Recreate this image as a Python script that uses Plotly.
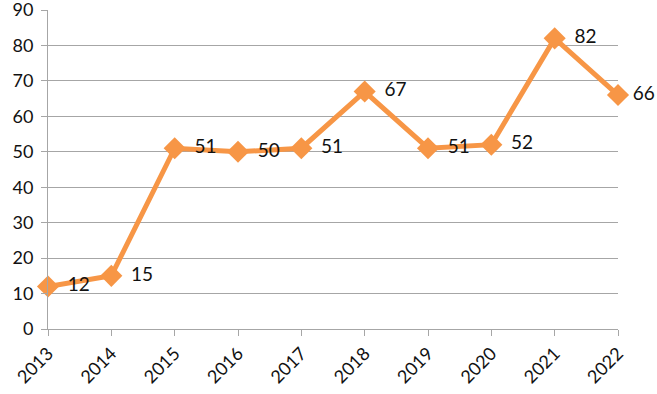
import plotly.graph_objects as go

years = ["2013", "2014", "2015", "2016", "2017", "2018", "2019", "2020", "2021", "2022"]
values = [12, 15, 51, 50, 51, 67, 51, 52, 82, 66]
y_ticks = [0, 10, 20, 30, 40, 50, 60, 70, 80, 90]

orange = "#F79646"
grid = "#A6A6A6"
font_family = "Lato"

fig = go.Figure()
fig.add_trace(go.Scatter(
    x=years, y=values, mode="lines+markers",
    line=dict(color=orange, width=5),
    marker=dict(symbol="diamond", size=17, color=orange),
    showlegend=False, hoverinfo="skip", cliponaxis=False,
))
label_gap = [30] * (len(values) - 1) + [22]
fig.add_trace(go.Scatter(
    x=years, y=values, mode="markers+text",
    text=[str(v) for v in values], textposition="middle right",
    marker=dict(size=label_gap, opacity=0),
    textfont=dict(size=19, color="#111", family=font_family),
    showlegend=False, hoverinfo="skip", cliponaxis=False,
))

fig.update_layout(
    width=657, height=394,
    margin=dict(l=48, r=39, t=10, b=65),
    paper_bgcolor="white", plot_bgcolor="white",
    font=dict(family=font_family, size=18, color="#111"),
)
fig.update_xaxes(
    type="category", range=[0, 9], tickangle=-45, automargin=False,
    showgrid=False, showline=True, linecolor=grid, linewidth=1,
    ticks="outside", ticklen=6, tickcolor=grid,
    tickfont=dict(size=18), zeroline=False,
)
fig.update_yaxes(
    range=[0, 90], tickvals=y_ticks, showgrid=True, gridcolor=grid, gridwidth=1,
    showline=True, linecolor=grid, linewidth=1, automargin=False,
    ticks="outside", ticklen=6, tickcolor=grid, zeroline=False,
    tickfont=dict(size=18), ticklabelstandoff=4, ticklabeloverflow="allow",
)

fig.write_html("out.html", config={"displayModeBar": False},
               post_script="document.body.style.margin='0';document.body.style.overflow='hidden';")
